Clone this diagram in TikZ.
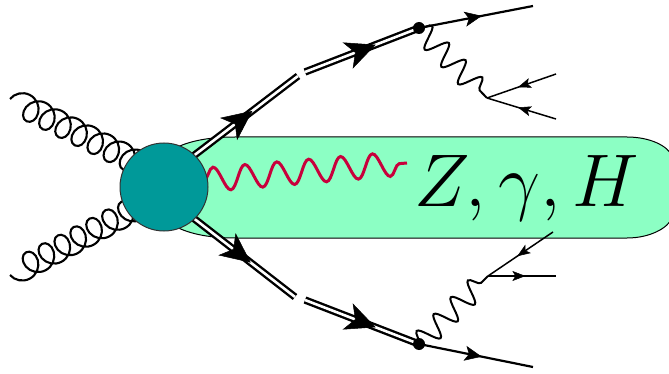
\documentclass[tikz,border=0pt]{standalone}
\usepackage{amsmath}
\usepackage{tikz}
\usetikzlibrary{
  arrows.meta, decorations.pathmorphing, decorations.markings, positioning, backgrounds
}
\definecolor{bandgreen}{HTML}{8CFFC4}
\definecolor{blobteal}{HTML}{009999}
\definecolor{wavered}{HTML}{C8003C}
\tikzset{
  gluon/.style={line width=2.1pt, decorate, decoration={coil, aspect=0.9, segment length=18pt, amplitude=12.5pt}},
  gluonmirror/.style={line width=2.1pt, decorate, decoration={coil, mirror, aspect=0.9, segment length=18pt, amplitude=12.5pt}},
  boson/.style={line width=2pt, decorate, decoration={snake, segment length=24pt, amplitude=11pt}},
  redboson/.style={line width=3pt, wavered, decorate, decoration={snake, segment length=32pt, amplitude=12pt}},
  heavy/.style={line width=2.4pt, double, double distance=2.6pt},
  heavyarrow/.style={postaction={decorate}, decoration={markings,
    mark=at position #1 with {\arrow[line width=0.5pt]{Stealth[length=30pt, width=28pt, inset=8pt]}}}},
  lepton/.style={line width=2.2pt, postaction={decorate}, decoration={markings,
    mark=at position #1 with {\arrow[line width=0.5pt]{Stealth[length=17pt, width=15pt, inset=4pt]}}}},
  softlepton/.style={line width=1.5pt, postaction={decorate}, decoration={markings,
    mark=at position #1 with {\arrow[line width=0.5pt]{Stealth[length=13pt, width=10pt, inset=3pt]}}}},
  vertexdot/.style={circle, fill=black, inner sep=0pt, minimum size=12pt}
}
\begin{document}
\begin{tikzpicture}[x=1pt, y=-1pt]
  \clip (0,0) rectangle (669,374);

  \node (blob) [circle, draw=black!80, line width=1pt, fill=blobteal, minimum size=88pt, inner sep=0pt] at (164,187) {};

  \coordinate (glu1) at (10,99);
  \coordinate (glu2) at (10,275);
  \coordinate (hub1) at (170,179);
  \coordinate (hub2) at (170,190);
  \coordinate (topa) at (192,157);
  \coordinate (topb) at (298,76);
  \coordinate (topc) at (305,72);
  \coordinate (bota) at (192,217);
  \coordinate (botb) at (295,297);
  \coordinate (botc) at (305,300);
  \coordinate (waveL) at (204,180);
  \coordinate (waveR) at (407,163);
  \node (topdot) [vertexdot] at (419,28) {};
  \node (botdot) [vertexdot] at (419,344) {};
  \coordinate (topend) at (533,6);
  \coordinate (botend) at (533,367);
  \coordinate (topfork) at (487,98);
  \coordinate (botfork) at (488,276);
  \coordinate (topq1) at (556,74);
  \coordinate (topq2) at (556,119);
  \coordinate (botq1) at (553,232);
  \coordinate (botq2) at (556,276);

  \begin{pgfonlayer}{background}
    \draw[line width=1pt, fill=bandgreen] (150,187) .. controls (150,155) and (180,137) .. (235,137)
      -- (627,137) .. controls (650,137) and (668,146) .. (672,156) -- (672,218)
      .. controls (668,228) and (650,238) .. (627,238) -- (235,238)
      .. controls (180,238) and (150,219) .. (150,187);
    \draw[gluon] (glu1) -- (hub1);
    \draw[gluonmirror] (glu2) -- (hub2);
    \draw[redboson] (waveL) -- (waveR);
    \draw[heavy, heavyarrow=0.57] (topa) -- (topb);
    \draw[heavy, heavyarrow=0.62] (topc) -- (topdot.center);
    \draw[heavy, heavyarrow=0.57] (bota) -- (botb);
    \draw[heavy, heavyarrow=0.62] (botc) -- (botdot.center);
  \end{pgfonlayer}

  \draw[lepton=0.55] (topdot.center) -- (topend);
  \draw[lepton=0.55] (botdot.center) -- (botend);
  \draw[boson] (topdot.center) -- (topfork);
  \draw[boson] (botdot.center) -- (botfork);
  \draw[softlepton=0.55] (topq1) -- (topfork);
  \draw[softlepton=0.55] (topq2) -- (topfork);
  \draw[softlepton=0.55] (botq1) -- (botfork);
  \draw[softlepton=0.55] (botfork) -- (botq2);

  \node (label) [scale=3] at (527,188.5) {\Huge $Z,\gamma,H$};
\end{tikzpicture}
\end{document}
